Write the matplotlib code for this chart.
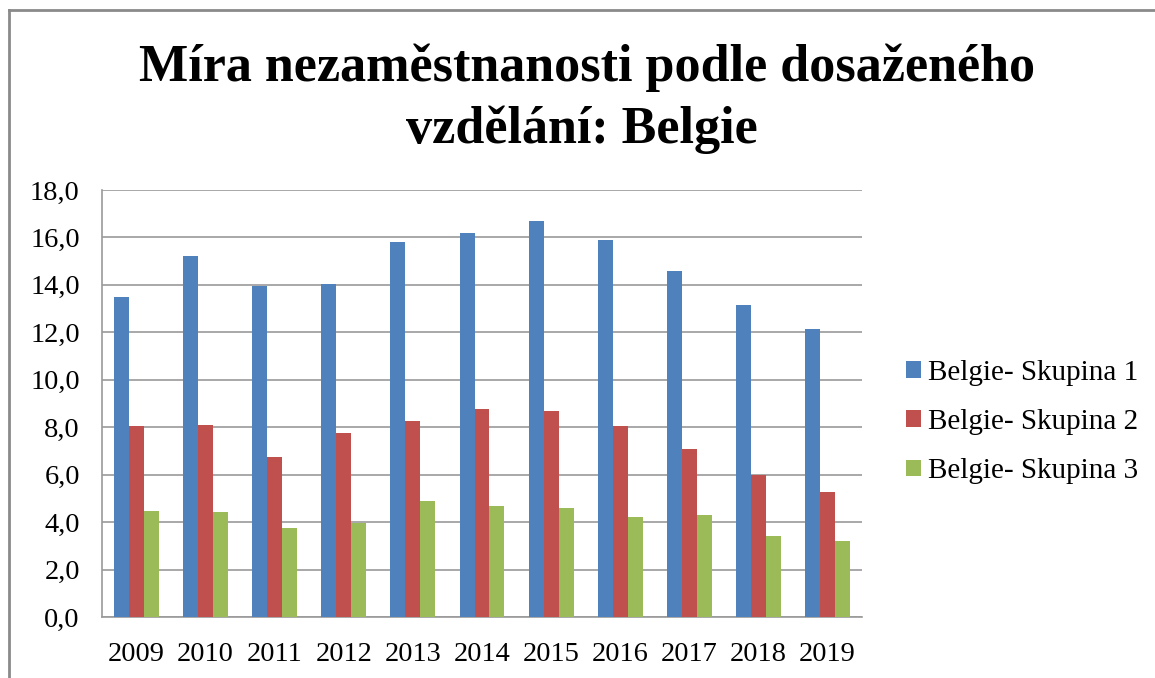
import matplotlib
matplotlib.use("Agg")
import matplotlib.pyplot as plt
import numpy as np
from matplotlib.patches import Patch
from matplotlib.lines import Line2D

years = ["2009", "2010", "2011", "2012", "2013", "2014", "2015", "2016", "2017", "2018", "2019"]
skupina1 = [13.5, 15.2, 13.95, 14.05, 15.8, 16.2, 16.7, 15.9, 14.6, 13.15, 12.15]
skupina2 = [8.05, 8.1, 6.75, 7.75, 8.25, 8.75, 8.7, 8.05, 7.1, 6.0, 5.25]
skupina3 = [4.47, 4.42, 3.77, 3.95, 4.9, 4.66, 4.6, 4.23, 4.3, 3.4, 3.22]
series_names = ["Belgie- Skupina 1", "Belgie- Skupina 2", "Belgie- Skupina 3"]
colors = ["#4F81BD", "#C0504D", "#9BBB59"]
yticks = [0, 2, 4, 6, 8, 10, 12, 14, 16, 18]

plt.rcParams["font.family"] = ["Liberation Serif", "DejaVu Serif"]

W, H = 1155, 678
fig = plt.figure(figsize=(W / 100, H / 100), dpi=100)
ax = fig.add_axes([102 / W, 1 - 617 / H, (862 - 102) / W, (617 - 190) / H])

x = np.arange(len(years))
bw = 0.217
for i, (vals, name, c) in enumerate(zip([skupina1, skupina2, skupina3], series_names, colors)):
    ax.bar(x + (i - 1) * bw, vals, width=bw, color=c, label=name, zorder=3)

ax.set_xlim(-0.5, len(years) - 0.5)
ax.set_ylim(0, 18)
ax.set_yticks(yticks)
ax.set_yticklabels([f"{v:.1f}".replace(".", ",") for v in yticks])
ax.set_xticks(x)
ax.set_xticklabels(years)
ax.tick_params(axis="both", length=0, labelsize=20.5, colors="black")
ax.tick_params(axis="y", pad=16)
ax.tick_params(axis="x", pad=18)
ax.yaxis.grid(True, color="#9a9a9a", linewidth=1.2, zorder=0)
ax.set_axisbelow(True)
for s in ["top", "right"]:
    ax.spines[s].set_visible(False)
for s in ["left", "bottom"]:
    ax.spines[s].set_color("#9a9a9a")
    ax.spines[s].set_linewidth(1.2)

handles = [Patch(facecolor=c, edgecolor="none") for c in colors]
fig.legend(handles, series_names, loc="center left",
           bbox_to_anchor=(906 / W, 1 - 422 / H), frameon=False,
           fontsize=21, handlelength=0.5, handleheight=0.5,
           handletextpad=0.25, labelspacing=0.8, borderpad=0, borderaxespad=0)

fig.text(587 / W, 1 - 81 / H, "Míra nezaměstnanosti podle dosaženého",
         ha="center", va="baseline", fontsize=37.5, fontweight="bold")
fig.text(582 / W, 1 - 143 / H, "vzdělání: Belgie",
         ha="center", va="baseline", fontsize=37.5, fontweight="bold")

# outer chart border (top and left visible)
fig.add_artist(Line2D([9 / W, 9 / W], [0, 1 - 10 / H], transform=fig.transFigure,
                      color="#8a8a8a", linewidth=2))
fig.add_artist(Line2D([9 / W, 1], [1 - 10 / H, 1 - 10 / H], transform=fig.transFigure,
                      color="#8a8a8a", linewidth=2))

fig.savefig("out.png", dpi=100)
